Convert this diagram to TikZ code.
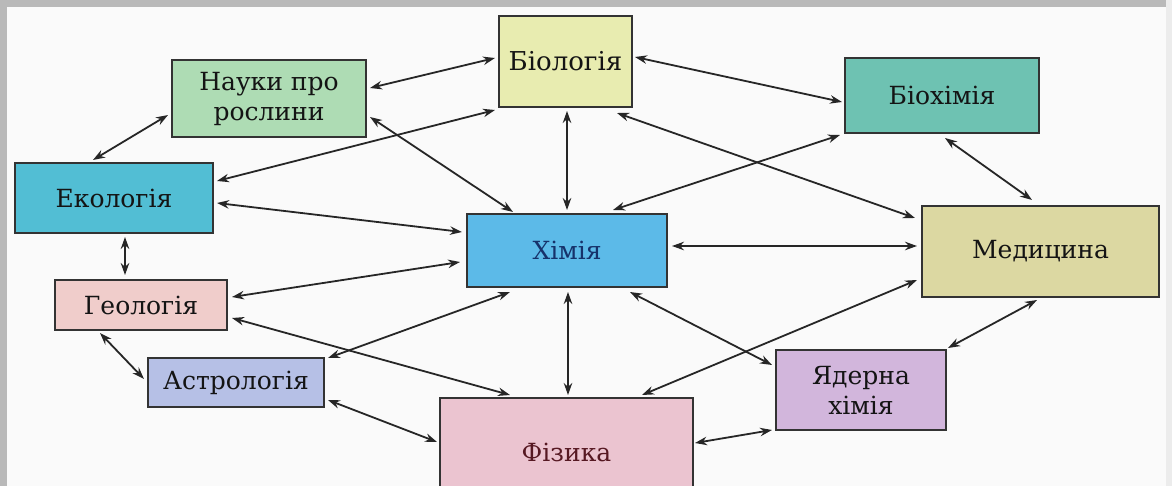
\documentclass[tikz,border=0pt]{standalone}
\usepackage{fontspec}
\setmainfont{DejaVu Serif}
\usetikzlibrary{arrows.meta}
\definecolor{cbio}{HTML}{E8ECB0}
\definecolor{cnauky}{HTML}{AEDCB4}
\definecolor{cbiochem}{HTML}{6EC2B2}
\definecolor{ceco}{HTML}{52BED4}
\definecolor{cchem}{HTML}{5CBAE8}
\definecolor{cmed}{HTML}{DCD8A2}
\definecolor{cgeo}{HTML}{F0CDCB}
\definecolor{castro}{HTML}{B6C0E6}
\definecolor{cphys}{HTML}{EBC4D0}
\definecolor{cnuc}{HTML}{D2B6DC}
\definecolor{tblue}{HTML}{16326A}
\definecolor{tred}{HTML}{561822}
\definecolor{tdark}{HTML}{141414}
\newcommand\setfsz[1]{\fontsize{#1}{30}\selectfont}
\begin{document}
\begin{tikzpicture}[x=1pt,y=-1pt,
  box/.style={draw=black!80,line width=2pt,align=center,inner sep=0pt,text=tdark,font=\setfsz{25}},
  link/.style={draw=black!85,line width=1.8pt,{Stealth[length=12pt,width=8.5pt]}-{Stealth[length=12pt,width=8.5pt]}}]
\useasboundingbox (0,0) rectangle (1172,486);
\clip (0,0) rectangle (1172,486);
\fill[white!98!black] (0,0) rectangle (1172,486);
\fill[gray!55] (0,0) rectangle (1172,7);
\fill[gray!55] (0,0) rectangle (7,486);
\fill[gray!15] (1166,0) rectangle (1172,486);

\node[box,fill=cbio,minimum width=133,minimum height=91,font=\setfsz{26}] (bio) at (565.5,61.5) {Біологія};
\node[box,fill=cnauky,minimum width=194,minimum height=77] (nauky) at (269,98.5) {Науки про\\рослини};
\node[box,fill=cbiochem,minimum width=194,minimum height=75] (biochem) at (942,95.5) {Біохімія};
\node[box,fill=ceco,minimum width=198,minimum height=70] (eco) at (114,198) {Екологія};
\node[box,fill=cchem,minimum width=200,minimum height=73,text=tblue] (chem) at (567,250.5) {Хімія};
\node[box,fill=cmed,minimum width=237,minimum height=91] (med) at (1040.5,251.5) {Медицина};
\node[box,fill=cgeo,minimum width=172,minimum height=50] (geo) at (141,305) {Геологія};
\node[box,fill=castro,minimum width=176,minimum height=49] (astro) at (236,382.5) {Астрологія};
\node[box,fill=cphys,minimum width=253,minimum height=108,text=tred] (phys) at (566.5,452) {Фізика};
\node[box,fill=cnuc,minimum width=170,minimum height=80] (nuc) at (861,390) {Ядерна\\хімія};

\draw[link] ([shift={(101,-10.5)}]nauky.center) -- ([shift={(-70.5,-3.5)}]bio.center);
\draw[link] ([shift={(101,18.5)}]nauky.center) -- ([shift={(-54,-38.5)}]chem.center);
\draw[link] ([shift={(103,-17)}]eco.center) -- ([shift={(-70.5,48.5)}]bio.center);
\draw[link] ([shift={(-101,16.5)}]nauky.center) -- ([shift={(-21,-38)}]eco.center);
\draw[link] ([shift={(103,5)}]eco.center) -- ([shift={(-105,-18.5)}]chem.center);
\draw[link] ([shift={(1.5,49.5)}]bio.center) -- ([shift={(0,-40.5)}]chem.center);
\draw[link] ([shift={(69.5,-4.5)}]bio.center) -- ([shift={(-100,6.5)}]biochem.center);
\draw[link] ([shift={(51.5,51.5)}]bio.center) -- ([shift={(-125.5,-33.5)}]med.center);
\draw[link] ([shift={(46,-40.5)}]chem.center) -- ([shift={(-102,39.5)}]biochem.center);
\draw[link] ([shift={(3,42.5)}]biochem.center) -- ([shift={(-8.5,-51.5)}]med.center);
\draw[link] ([shift={(105,-4.5)}]chem.center) -- ([shift={(-123.5,-5.5)}]med.center);
\draw[link] ([shift={(91,-8)}]geo.center) -- ([shift={(-107,11.5)}]chem.center);
\draw[link] ([shift={(91,13)}]geo.center) -- ([shift={(-56.5,-57)}]phys.center);
\draw[link] ([shift={(92,17.5)}]astro.center) -- ([shift={(-129.5,-10)}]phys.center);
\draw[link] ([shift={(92,-24.5)}]astro.center) -- ([shift={(-57,41.5)}]chem.center);
\draw[link] ([shift={(1,41.5)}]chem.center) -- ([shift={(1.5,-57)}]phys.center);
\draw[link] ([shift={(63,41.5)}]chem.center) -- ([shift={(-89,-25)}]nuc.center);
\draw[link] ([shift={(-123.5,28.5)}]med.center) -- ([shift={(75.5,-57)}]phys.center);
\draw[link] ([shift={(-3.5,48.5)}]med.center) -- ([shift={(87,-42)}]nuc.center);
\draw[link] ([shift={(128.5,-9)}]phys.center) -- ([shift={(-89,40)}]nuc.center);
\draw[link] ([shift={(11,39)}]eco.center) -- ([shift={(-16,-30)}]geo.center);
\draw[link] ([shift={(-41,28)}]geo.center) -- ([shift={(-92,-3.5)}]astro.center);
\end{tikzpicture}
\end{document}
